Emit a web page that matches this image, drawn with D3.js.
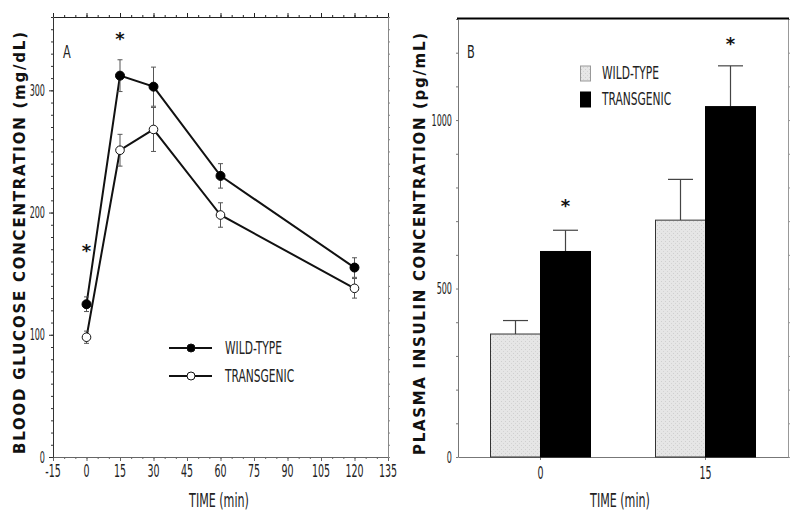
<!DOCTYPE html>
<html>
<head>
<meta charset="utf-8">
<script src="https://cdn.jsdelivr.net/npm/d3@7"></script>
<style>
  html, body { margin: 0; padding: 0; background: #fff; }
  svg { display: block; }
</style>
</head>
<body>
<svg id="chart" width="800" height="518"></svg>
<script>
// ---------- Data (panel A: blood glucose) ----------
const timesA = [0, 15, 30, 60, 120];
const wtGlucose = [125, 312, 303, 230, 155];
const wtGlucoseErr = [6, 13, 16, 10, 8];
const tgGlucose = [98, 251, 268, 198, 138];
const tgGlucoseErr = [5, 13, 18, 10, 8];
const starsA = [{ t: 0, v: 172 }, { t: 15, v: 345 }];
const xTicksA = [-15, 0, 15, 30, 45, 60, 75, 90, 105, 120, 135];
const yTicksA = [0, 100, 200, 300];

// ---------- Data (panel B: plasma insulin) ----------
const timesB = ["0", "15"];
const seriesB = ["WILD-TYPE", "TRANSGENIC"];
const wtInsulin = [365, 703];
const wtInsulinErr = [40, 121];
const tgInsulin = [610, 1040];
const tgInsulinErr = [63, 121];
const starsB = [757, 1238];
const yTicksB = [0, 500, 1000];

const svg = d3.select("#chart");
const NARROW = "'Liberation Sans Narrow', 'DejaVu Sans Condensed', 'Liberation Sans', sans-serif";

// condensed text helper
function ctext(parent, str, x, y, size, anchor, sx, weight) {
  const g = parent.append("g").attr("transform", `translate(${x},${y}) scale(${sx},1)`);
  g.append("text")
    .attr("text-anchor", anchor || "start")
    .attr("dominant-baseline", "central")
    .style("font-family", NARROW)
    .style("font-size", size + "px")
    .style("font-weight", weight || "normal")
    .attr("fill", "#222")
    .text(str);
  return g;
}

// stipple pattern for wild-type bars
const defs = svg.append("defs");
const pat = defs.append("pattern").attr("id", "stip").attr("patternUnits", "userSpaceOnUse")
  .attr("width", 4).attr("height", 4);
pat.append("rect").attr("width", 4).attr("height", 4).attr("fill", "#e6e6e6");
pat.append("rect").attr("x", 1).attr("y", 1).attr("width", 1).attr("height", 1).attr("fill", "#cfcfcf");
pat.append("rect").attr("x", 3).attr("y", 3).attr("width", 1).attr("height", 1).attr("fill", "#d4d4d4");

// ================= PANEL A =================
const xA = d3.scaleLinear().domain([-15, 135]).range([53, 388]);
const yA = d3.scaleLinear().domain([0, 360]).range([457, 17]);
const gA = svg.append("g");

function styleAxis(g, color) {
  g.select(".domain").attr("stroke", color).attr("stroke-width", 1);
  g.selectAll(".tick line").attr("stroke", color);
}
// minor ticks
const minorXA = d3.range(-15, 136, 5);
const minorYA = d3.range(0, 361, 10);
gA.append("g").attr("transform", `translate(0,17)`)
  .call(d3.axisTop(xA).tickValues(minorXA).tickSize(2).tickFormat("").tickSizeOuter(0))
  .call(styleAxis, "#222");
gA.append("g").attr("transform", `translate(0,17)`)
  .call(d3.axisTop(xA).tickValues(xTicksA).tickSize(4).tickFormat("").tickSizeOuter(0))
  .call(g => g.select(".domain").remove()).call(styleAxis, "#222");
gA.append("g").attr("transform", `translate(0,457)`)
  .call(d3.axisBottom(xA).tickValues(minorXA).tickSize(2).tickFormat("").tickSizeOuter(0))
  .call(styleAxis, "#666");
gA.append("g").attr("transform", `translate(0,457)`)
  .call(d3.axisBottom(xA).tickValues(xTicksA).tickSize(4).tickFormat("").tickSizeOuter(0))
  .call(g => g.select(".domain").remove()).call(styleAxis, "#666");
gA.append("g").attr("transform", `translate(53,0)`)
  .call(d3.axisLeft(yA).tickValues(minorYA).tickSize(2).tickFormat("").tickSizeOuter(0))
  .call(styleAxis, "#333");
gA.append("g").attr("transform", `translate(53,0)`)
  .call(d3.axisLeft(yA).tickValues(yTicksA).tickSize(4).tickFormat("").tickSizeOuter(0))
  .call(g => g.select(".domain").remove()).call(styleAxis, "#333");
gA.append("g").attr("transform", `translate(388,0)`)
  .call(d3.axisRight(yA).tickValues(minorYA).tickSize(2).tickFormat("").tickSizeOuter(0))
  .call(styleAxis, "#888");

// tick labels
xTicksA.forEach(t => ctext(gA, String(t), xA(t), 471, 17, "middle", 0.62));
yTicksA.forEach(t => ctext(gA, String(t), 45, yA(t), 16, "end", 0.56));

// lines
const lineA = d3.line().x(d => xA(d[0])).y(d => yA(d[1]));
const wtPts = timesA.map((t, i) => [t, wtGlucose[i], wtGlucoseErr[i]]);
const tgPts = timesA.map((t, i) => [t, tgGlucose[i], tgGlucoseErr[i]]);
[wtPts, tgPts].forEach(pts => {
  gA.append("path").datum(pts).attr("d", lineA).attr("fill", "none")
    .attr("stroke", "#111").attr("stroke-width", 2);
});
// error bars
[wtPts, tgPts].forEach(pts => {
  pts.forEach(d => {
    const x = xA(d[0]), y1 = yA(d[1] - d[2]), y2 = yA(d[1] + d[2]);
    gA.append("line").attr("x1", x).attr("x2", x).attr("y1", y1).attr("y2", y2)
      .attr("stroke", "#555").attr("stroke-width", 1);
    [y1, y2].forEach(y => gA.append("line").attr("x1", x - 2.5).attr("x2", x + 2.5)
      .attr("y1", y).attr("y2", y).attr("stroke", "#555").attr("stroke-width", 1));
  });
});
// markers
gA.selectAll(".wt").data(wtPts).join("circle")
  .attr("cx", d => xA(d[0])).attr("cy", d => yA(d[1])).attr("r", 4.5)
  .attr("fill", "#000").attr("stroke", "#000");
gA.selectAll(".tg").data(tgPts).join("circle")
  .attr("cx", d => xA(d[0])).attr("cy", d => yA(d[1])).attr("r", 4.3)
  .attr("fill", "#fff").attr("stroke", "#111").attr("stroke-width", 1);

// stars
function star(parent, x, y) {
  parent.append("text").attr("x", x).attr("y", y + 10).attr("text-anchor", "middle")
    .style("font-family", "'DejaVu Sans', sans-serif").style("font-size", "18px")
    .style("font-weight", "bold").attr("fill", "#111").text("*");
}
starsA.forEach(s => star(gA, xA(s.t), yA(s.v)));

// panel letter
ctext(gA, "A", 63, 52, 18, "start", 0.7);

// legend A
const legA = [{ name: "WILD-TYPE", fill: "#000", y: 348 }, { name: "TRANSGENIC", fill: "#fff", y: 376 }];
legA.forEach(l => {
  gA.append("line").attr("x1", 169).attr("x2", 212).attr("y1", l.y).attr("y2", l.y)
    .attr("stroke", "#111").attr("stroke-width", 2);
  gA.append("circle").attr("cx", 191).attr("cy", l.y).attr("r", 4).attr("fill", l.fill)
    .attr("stroke", "#111").attr("stroke-width", 1);
  ctext(gA, l.name, 225, l.y, 18, "start", 0.66);
});

// axis titles A
ctext(gA, "TIME (min)", 219, 500, 19, "middle", 0.65);
gA.append("text").attr("transform", "translate(20,243) rotate(-90)")
  .attr("text-anchor", "middle").attr("dominant-baseline", "central")
  .attr("textLength", 422).attr("lengthAdjust", "spacing")
  .style("font-family", "'DejaVu Sans', sans-serif").style("font-size", "15px")
  .style("font-weight", "bold").attr("fill", "#111")
  .text("BLOOD GLUCOSE CONCENTRATION (mg/dL)");

// ================= PANEL B =================
const x0 = d3.scaleBand().domain(timesB).range([458, 788]).padding(0);
const x1 = d3.scaleBand().domain(seriesB).range([0, 100]);
const yB = d3.scaleLinear().domain([0, 1300]).range([457, 19]);
const gB = svg.append("g");
const minorYB = d3.range(0, 1301, 100);

gB.append("g").attr("transform", `translate(458,0)`)
  .call(d3.axisLeft(yB).tickValues(minorYB).tickSize(2).tickFormat("").tickSizeOuter(0))
  .call(styleAxis, "#777");
gB.append("g").attr("transform", `translate(788,0)`)
  .call(d3.axisRight(yB).tickValues(minorYB).tickSize(2).tickFormat("").tickSizeOuter(0))
  .call(styleAxis, "#999");
gB.append("g").attr("transform", `translate(0,457)`)
  .call(d3.axisBottom(x0).tickSize(3).tickFormat("").tickSizeOuter(0))
  .call(styleAxis, "#777");
gB.append("line").attr("x1", 457).attr("x2", 789).attr("y1", 18.5).attr("y2", 18.5)
  .attr("stroke", "#000").attr("stroke-width", 2);

yTicksB.forEach(t => ctext(gB, String(t), 452, yB(t), 16, "end", 0.56));
timesB.forEach(t => ctext(gB, t, x0(t) + x0.bandwidth() / 2, 473, 17, "middle", 0.62));

const barsB = [];
timesB.forEach((t, i) => {
  barsB.push({ t, s: "WILD-TYPE", v: wtInsulin[i], e: wtInsulinErr[i] });
  barsB.push({ t, s: "TRANSGENIC", v: tgInsulin[i], e: tgInsulinErr[i], star: starsB[i] });
});
const bx = d => x0(d.t) + x0.bandwidth() / 2 - 50 + x1(d.s);

// error bars (upward only) drawn behind bars
barsB.forEach(d => {
  const cx = bx(d) + x1.bandwidth() / 2;
  gB.append("line").attr("x1", cx).attr("x2", cx).attr("y1", yB(d.v)).attr("y2", yB(d.v + d.e))
    .attr("stroke", "#444").attr("stroke-width", 1.2);
  gB.append("line").attr("x1", cx - 12.5).attr("x2", cx + 12.5).attr("y1", yB(d.v + d.e)).attr("y2", yB(d.v + d.e))
    .attr("stroke", "#444").attr("stroke-width", 1.2);
});
gB.selectAll(".bar").data(barsB).join("rect")
  .attr("x", d => bx(d)).attr("width", x1.bandwidth())
  .attr("y", d => yB(d.v)).attr("height", d => yB(0) - yB(d.v))
  .attr("fill", d => d.s === "WILD-TYPE" ? "url(#stip)" : "#000")
  .attr("stroke", d => d.s === "WILD-TYPE" ? "#333" : "#000")
  .attr("stroke-width", 1);

barsB.filter(d => d.star).forEach(d => star(gB, bx(d) + x1.bandwidth() / 2, yB(d.star)));

ctext(gB, "B", 467, 52, 18, "start", 0.7);

// legend B
const legB = [{ name: "WILD-TYPE", fill: "url(#stip)", stroke: "#999", y: 66 },
              { name: "TRANSGENIC", fill: "#000", stroke: "#000", y: 92 }];
legB.forEach(l => {
  gB.append("rect").attr("x", 580.5).attr("y", l.y).attr("width", 10).attr("height", 15)
    .attr("fill", l.fill).attr("stroke", l.stroke).attr("stroke-width", 1);
  ctext(gB, l.name, 602, l.y + 7.5, 18, "start", 0.66);
});

ctext(gB, "TIME (min)", 620, 500, 19, "middle", 0.65);
gB.append("text").attr("transform", "translate(420,244) rotate(-90)")
  .attr("text-anchor", "middle").attr("dominant-baseline", "central")
  .attr("textLength", 422).attr("lengthAdjust", "spacing")
  .style("font-family", "'DejaVu Sans', sans-serif").style("font-size", "15px")
  .style("font-weight", "bold").attr("fill", "#111")
  .text("PLASMA INSULIN CONCENTRATION (pg/mL)");
</script>
</body>
</html>
